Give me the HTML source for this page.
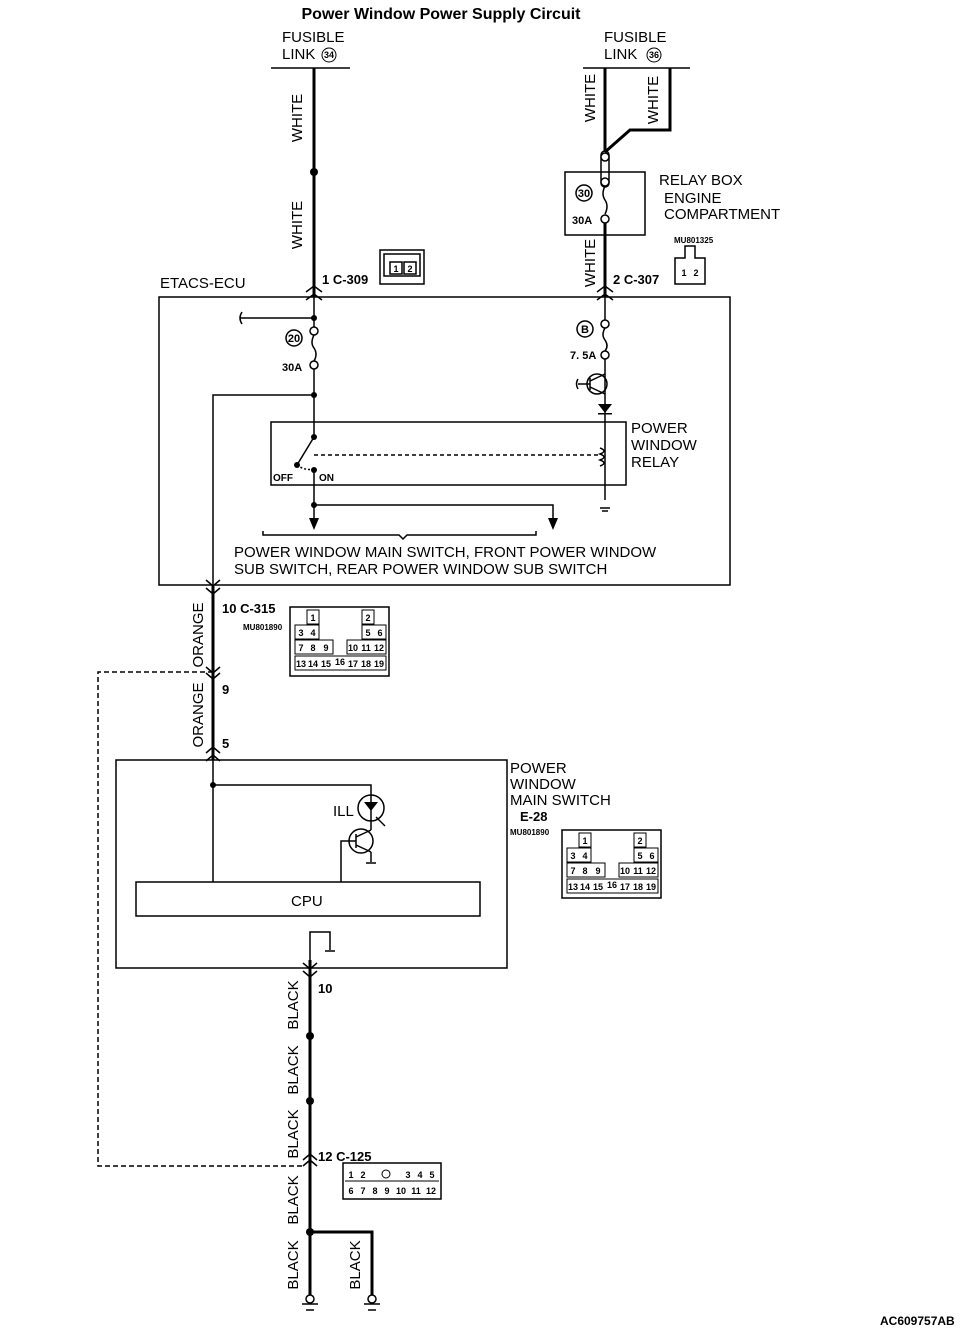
<!DOCTYPE html>
<html><head><meta charset="utf-8"><style>
body{margin:0;background:#fff}
svg{display:block}
text{font-family:"Liberation Sans",sans-serif;fill:#000}
.b{font-weight:bold}
</style></head><body>
<svg width="960" height="1334" viewBox="0 0 960 1334" xmlns="http://www.w3.org/2000/svg">
<g stroke="#000" fill="none" stroke-width="1.5">
<line x1="271" y1="68" x2="350" y2="68"/>
<line x1="314" y1="68" x2="314" y2="297" stroke-width="3"/>
<line x1="583" y1="68" x2="690" y2="68"/>
<polyline points="605,68 605,152" stroke-width="3"/>
<polyline points="670,68 670,130 630,130 605,152" stroke-width="3"/>
<rect x="565" y="172" width="80" height="63"/>
<rect x="601" y="151" width="8" height="36" rx="4"/>
<circle cx="605" cy="157" r="4" fill="#fff"/>
<circle cx="605" cy="182" r="4" fill="#fff"/>
<path d="M605 186 q-4 8 0 14 q4 6 0 14"/>
<circle cx="605" cy="219" r="4" fill="#fff"/>
<line x1="605" y1="223" x2="605" y2="297" stroke-width="3"/>
<circle cx="584" cy="193" r="8"/>
<rect x="380" y="250" width="44" height="34"/><rect x="384" y="254" width="36" height="22"/>
<rect x="390" y="262" width="12" height="12"/><rect x="404" y="262" width="12" height="12"/>
<path d="M675 284 V258 h10 v-12 h10 v12 h10 v26 z"/>
<rect x="159" y="297" width="571" height="288"/>
<path d="M306 292 l8 -6 l8 6 M306 300 l8 -6 l8 6"/>
<path d="M597 292 l8 -6 l8 6 M597 300 l8 -6 l8 6"/>
<line x1="314" y1="297" x2="314" y2="327"/>
<line x1="314" y1="318" x2="240" y2="318"/><path d="M242 312 q-4 6 0 12"/>
<circle cx="314" cy="331" r="4"/><path d="M314 335 q-4 8 0 13 q4 6 0 13"/><circle cx="314" cy="365" r="4"/>
<circle cx="294" cy="338" r="8"/>
<line x1="314" y1="369" x2="314" y2="437"/>
<polyline points="314,395 213,395 213,760"/>
<rect x="271" y="422" width="355" height="63"/>
<line x1="314" y1="437" x2="297" y2="465"/>
<line x1="314" y1="455" x2="600" y2="455" stroke-dasharray="4,3"/>
<path d="M297 465 q8 6 17 4" stroke-dasharray="2,2"/>
<line x1="314" y1="470" x2="314" y2="520"/>
<polyline points="314,505 553,505 553,520"/>
<path d="M263 531 v4 h136 l4 4 l4 -4 h129 v-4"/>
<line x1="605" y1="297" x2="605" y2="320"/>
<circle cx="605" cy="324" r="4"/><path d="M605 328 q-4 7 0 12 q4 6 0 11"/><circle cx="605" cy="355" r="4"/>
<circle cx="585" cy="329" r="8"/>
<line x1="605" y1="359" x2="605" y2="500"/>
<circle cx="597" cy="384" r="10"/>
<line x1="590" y1="378" x2="590" y2="390"/><line x1="590" y1="384" x2="578" y2="384"/><path d="M578 379 q-3 5 0 10"/>
<line x1="590" y1="381" x2="605" y2="374"/><line x1="590" y1="387" x2="605" y2="394"/>
<path d="M600 448 q8 3 0 6 q8 3 0 6 q8 3 0 6"/>
<line x1="600" y1="508" x2="610" y2="508"/><line x1="602" y1="511" x2="608" y2="511"/>
<line x1="213" y1="585" x2="213" y2="760" stroke-width="3"/>
<path d="M206 580 l7 6 l7 -6 M206 588 l7 6 l7 -6"/>
<path d="M206 667 l7 6 l7 -6 M206 673 l7 6 l7 -6"/>
<path d="M206 753 l7 -6 l7 6 M206 761 l7 -6 l7 6"/>
<polyline points="213,672 98,672 98,1166 303,1166" stroke-dasharray="5,3"/>
<rect x="290" y="607" width="99" height="69"/>
<rect x="116" y="760" width="391" height="208"/>
<line x1="213" y1="760" x2="213" y2="882"/>
<polyline points="213,785 371,785 371,795"/>
<circle cx="371" cy="808" r="13"/>
<line x1="371" y1="795" x2="371" y2="830"/>
<circle cx="361" cy="841" r="12"/>
<line x1="356" y1="834" x2="356" y2="848"/>
<line x1="356" y1="837" x2="371" y2="830"/><line x1="356" y1="845" x2="371" y2="852"/>
<line x1="371" y1="852" x2="371" y2="862"/>
<polyline points="341,882 341,841 356,841"/>
<line x1="366" y1="863" x2="376" y2="863"/>
<line x1="376" y1="817" x2="385" y2="826"/>
<rect x="136" y="882" width="344" height="34"/>
<rect x="562" y="830" width="99" height="68"/>
<polyline points="310,968 310,932 330,932 330,950"/>
<line x1="325" y1="951" x2="335" y2="951"/>
<line x1="310" y1="960" x2="310" y2="1296" stroke-width="3"/>
<path d="M303 963 l7 6 l7 -6 M303 971 l7 6 l7 -6"/>
<path d="M303 1166 l7 -6 l7 6 M303 1160 l7 -6 l7 6"/>
<polyline points="310,1232 372,1232 372,1296" stroke-width="3"/>
<circle cx="310" cy="1299" r="4" fill="#fff"/><circle cx="372" cy="1299" r="4" fill="#fff"/>
<line x1="302" y1="1304" x2="318" y2="1304"/><line x1="306" y1="1310" x2="314" y2="1310"/>
<line x1="364" y1="1304" x2="380" y2="1304"/><line x1="368" y1="1310" x2="376" y2="1310"/>
<rect x="343" y="1163" width="98" height="36"/>
</g>
<g fill="#000">
<circle cx="314" cy="172" r="4"/>
<circle cx="314" cy="318" r="3"/><circle cx="314" cy="395" r="3"/><circle cx="314" cy="437" r="3"/>
<circle cx="297" cy="465" r="3"/><circle cx="314" cy="470" r="3"/><circle cx="314" cy="505" r="3"/>
<path d="M309 518 h10 l-5 12 z"/><path d="M548 518 h10 l-5 12 z"/>
<path d="M598 404 h14 l-7 9 z"/><rect x="598" y="413" width="14" height="1.5"/>
<path d="M364 802 h14 l-7 9 z"/>
<circle cx="213" cy="785" r="3"/>
<circle cx="310" cy="1036" r="4"/><circle cx="310" cy="1101" r="4"/><circle cx="310" cy="1232" r="4"/>
</g>
<text x="441" y="19" class="b" font-size="16" text-anchor="middle">Power Window Power Supply Circuit</text>
<g font-size="15">
<text x="282" y="42">FUSIBLE</text><text x="282" y="59">LINK</text>
<text x="604" y="42">FUSIBLE</text><text x="604" y="59">LINK</text>
<text x="659" y="185">RELAY BOX</text><text x="664" y="203">ENGINE</text><text x="664" y="219">COMPARTMENT</text>
<text x="160" y="288">ETACS-ECU</text>
<text x="631" y="433">POWER</text><text x="631" y="450">WINDOW</text><text x="631" y="467">RELAY</text>
<text x="234" y="557">POWER WINDOW MAIN SWITCH, FRONT POWER WINDOW</text>
<text x="234" y="574">SUB SWITCH, REAR POWER WINDOW SUB SWITCH</text>
<text x="510" y="773">POWER</text><text x="510" y="789">WINDOW</text><text x="510" y="805">MAIN SWITCH</text>
<text x="291" y="906">CPU</text>
<text x="333" y="816">ILL</text>
</g>
<g font-size="13" class="b">
<text x="322" y="284">1 C-309</text><text x="613" y="284">2 C-307</text>
<text x="282" y="371" font-size="11">30A</text><text x="572" y="224" font-size="11">30A</text>
<text x="570" y="359" font-size="11">7. 5A</text>
<text x="273" y="481" font-size="10">OFF</text><text x="319" y="481" font-size="10">ON</text>
<text x="222" y="613">10 C-315</text>
<text x="222" y="694">9</text><text x="222" y="748">5</text>
<text x="520" y="821">E-28</text>
<text x="318" y="993">10</text>
<text x="318" y="1161">12 C-125</text>
<text x="880" y="1325" font-size="12">AC609757AB</text>
<text x="243" y="630" font-size="8">MU801890</text>
<text x="510" y="835" font-size="8">MU801890</text>
<text x="674" y="243" font-size="8">MU801325</text>
</g>
<g font-size="9" text-anchor="middle" class="b">
<circle cx="329" cy="55" r="7" fill="none" stroke="#000"/><text x="329" y="58">34</text>
<circle cx="654" cy="55" r="7" fill="none" stroke="#000"/><text x="654" y="58">36</text>
<text x="584" y="197" font-size="11">30</text><text x="294" y="342" font-size="11">20</text><text x="585" y="333" font-size="11">B</text>
<text x="396" y="272">1</text><text x="410" y="272">2</text>
<text x="684" y="276">1</text><text x="696" y="276">2</text>
</g>
<g font-size="9" class="b" text-anchor="middle">
<g transform="translate(290,607)">
<g fill="none" stroke="#000"><rect x="17" y="3" width="12" height="14"/><rect x="72" y="3" width="12" height="14"/>
<rect x="5" y="18" width="24" height="14"/><rect x="72" y="18" width="24" height="14"/>
<rect x="5" y="33" width="38" height="14"/><rect x="57" y="33" width="39" height="14"/>
<rect x="5" y="49" width="91" height="14"/></g>
<text x="23" y="14">1</text><text x="78" y="14">2</text><text x="11" y="29">3</text><text x="23" y="29">4</text><text x="78" y="29">5</text><text x="90" y="29">6</text>
<text x="11" y="44">7</text><text x="23" y="44">8</text><text x="36" y="44">9</text><text x="63" y="44">10</text><text x="76" y="44">11</text><text x="89" y="44">12</text>
<text x="11" y="60">13</text><text x="23" y="60">14</text><text x="36" y="60">15</text><text x="50" y="58">16</text><text x="63" y="60">17</text><text x="76" y="60">18</text><text x="89" y="60">19</text>
</g>
<g transform="translate(562,830)">
<g fill="none" stroke="#000"><rect x="17" y="3" width="12" height="14"/><rect x="72" y="3" width="12" height="14"/>
<rect x="5" y="18" width="24" height="14"/><rect x="72" y="18" width="24" height="14"/>
<rect x="5" y="33" width="38" height="14"/><rect x="57" y="33" width="39" height="14"/>
<rect x="5" y="49" width="91" height="14"/></g>
<text x="23" y="14">1</text><text x="78" y="14">2</text><text x="11" y="29">3</text><text x="23" y="29">4</text><text x="78" y="29">5</text><text x="90" y="29">6</text>
<text x="11" y="44">7</text><text x="23" y="44">8</text><text x="36" y="44">9</text><text x="63" y="44">10</text><text x="76" y="44">11</text><text x="89" y="44">12</text>
<text x="11" y="60">13</text><text x="23" y="60">14</text><text x="36" y="60">15</text><text x="50" y="58">16</text><text x="63" y="60">17</text><text x="76" y="60">18</text><text x="89" y="60">19</text>
</g>
<g transform="translate(343,1163)">
<line x1="2" y1="18" x2="96" y2="18" stroke="#000"/>
<text x="8" y="15">1</text><text x="20" y="15">2</text><text x="65" y="15">3</text><text x="77" y="15">4</text><text x="89" y="15">5</text>
<text x="8" y="31">6</text><text x="20" y="31">7</text><text x="32" y="31">8</text><text x="44" y="31">9</text><text x="58" y="31">10</text><text x="73" y="31">11</text><text x="88" y="31">12</text>
<circle cx="43" cy="11" r="4" fill="none" stroke="#000"/>
</g>
</g>
<g font-size="15" text-anchor="middle">
<text transform="translate(302,118) rotate(-90)">WHITE</text>
<text transform="translate(302,225) rotate(-90)">WHITE</text>
<text transform="translate(595,98) rotate(-90)">WHITE</text>
<text transform="translate(658,100) rotate(-90)">WHITE</text>
<text transform="translate(595,263) rotate(-90)">WHITE</text>
<text transform="translate(203,635) rotate(-90)">ORANGE</text>
<text transform="translate(203,715) rotate(-90)">ORANGE</text>
<text transform="translate(298,1005) rotate(-90)">BLACK</text>
<text transform="translate(298,1070) rotate(-90)">BLACK</text>
<text transform="translate(298,1134) rotate(-90)">BLACK</text>
<text transform="translate(298,1200) rotate(-90)">BLACK</text>
<text transform="translate(298,1265) rotate(-90)">BLACK</text>
<text transform="translate(360,1265) rotate(-90)">BLACK</text>
</g>
</svg>
</body></html>
